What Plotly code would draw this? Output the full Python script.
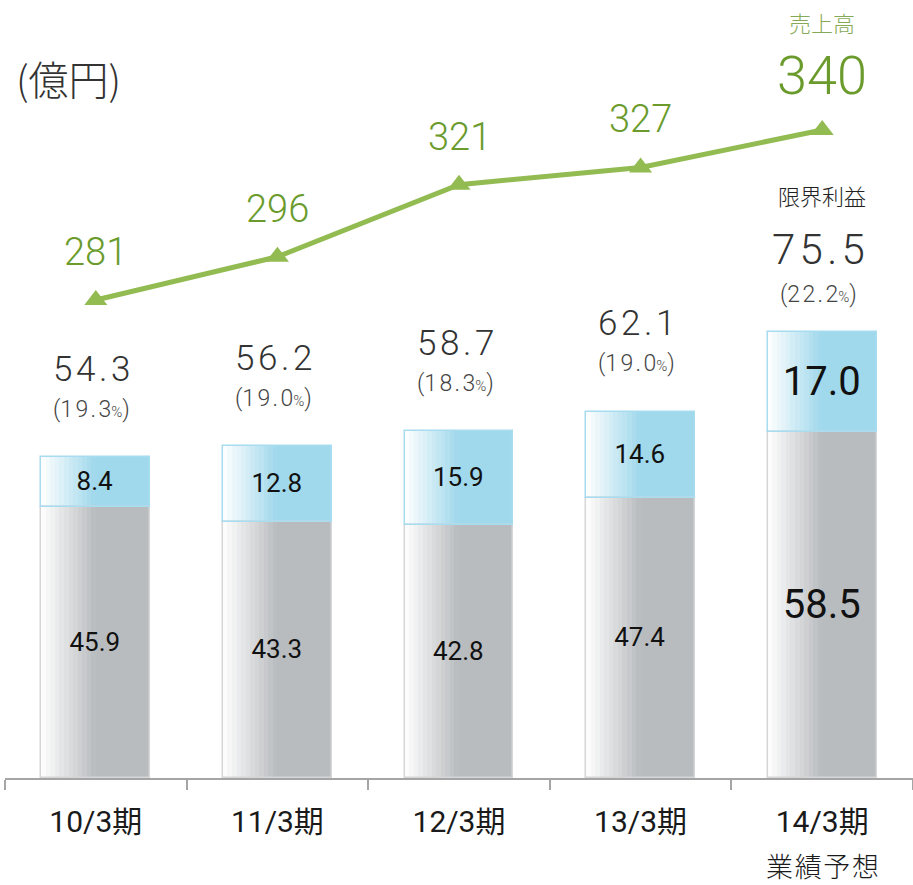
import plotly.graph_objects as go

# data
periods = ['10/3期', '11/3期', '12/3期', '13/3期', '14/3期']
forecast_note = '業績予想'
base_part = [45.9, 43.3, 42.8, 47.4, 58.5]      # gray segment
upper_part = [8.4, 12.8, 15.9, 14.6, 17.0]      # blue segment
margin_total = [54.3, 56.2, 58.7, 62.1, 75.5]   # 限界利益
margin_pct = [19.3, 19.0, 18.3, 19.0, 22.2]
sales = [281, 296, 321, 327, 340]               # 売上高

FONT = 'Roboto, "Noto Sans CJK JP", sans-serif'
JP = '"Noto Sans CJK JP", sans-serif'
GRAY = (185, 188, 191)
BLUE = (160, 216, 236)
GREEN_LINE = '#92bb52'
GREEN_TXT = '#6a9b2c'
W = 0.6
N = 12


def mix(c, t):
    r, g, b = [int(255 + (v - 255) * t) for v in c]
    return f'rgb({r},{g},{b})'


def spaced(s):
    # light tracking like the original
    return '\u200a'.join(s)


fig = go.Figure()

# gradient bars: left half faded from white, right half solid
for i in range(N + 1):
    if i < N:
        off = -W / 2 + i * (W / 2) / N
        wid = (W / 2) / N + 0.002
        t = (i + 0.5) / N
    else:
        off = 0
        wid = W / 2
        t = 1.0
    fig.add_trace(go.Bar(x=periods, y=base_part, base=[0] * 5, offset=off, width=wid,
                         marker=dict(color=mix(GRAY, t), line_width=0),
                         showlegend=False, hoverinfo='skip'))
    fig.add_trace(go.Bar(x=periods, y=upper_part, base=base_part, offset=off, width=wid,
                         marker=dict(color=mix(BLUE, t), line_width=0),
                         showlegend=False, hoverinfo='skip'))

# outline + inner labels
big = [26, 26, 26, 26, 40]
fig.add_trace(go.Bar(x=periods, y=base_part, base=[0] * 5, width=W,
                     marker=dict(color='rgba(0,0,0,0)', line=dict(color='#d4d6d8', width=1.5)),
                     text=[f'{v:.1f}' for v in base_part], textposition='inside',
                     insidetextanchor='middle', textangle=0, constraintext='none',
                     textfont=dict(size=big, color='#111111', family=FONT),
                     showlegend=False))
fig.add_trace(go.Bar(x=periods, y=upper_part, base=base_part, width=W,
                     marker=dict(color='rgba(0,0,0,0)', line=dict(color='#a8dcf0', width=1.5)),
                     text=[f'{v:.1f}' for v in upper_part], textposition='inside',
                     insidetextanchor='middle', textangle=0, constraintext='none',
                     textfont=dict(size=big, color='#111111', family=FONT),
                     showlegend=False))

# sales line
fig.add_trace(go.Scatter(x=periods, y=sales, yaxis='y2', mode='lines+markers',
                         line=dict(color=GREEN_LINE, width=5),
                         marker=dict(symbol='triangle-up', size=20, color=GREEN_LINE),
                         showlegend=False))

# sales labels
for i, (p, s) in enumerate(zip(periods, sales)):
    last = i == len(sales) - 1
    fig.add_annotation(x=p, y=s, yref='y2', text=str(s), showarrow=False,
                       yshift=54 if last else 48,
                       font=dict(size=54 if last else 38, color=GREEN_TXT, family=FONT,
                                 weight=300))
fig.add_annotation(x=periods[-1], y=sales[-1], yref='y2', text='売上高', showarrow=False,
                   yshift=108, font=dict(size=22, color='#86a955', family=JP, weight=300))

# marginal profit labels
for i, p in enumerate(periods):
    last = i == len(periods) - 1
    top = base_part[i] + upper_part[i]
    fig.add_annotation(x=p, y=top, text=spaced(f'{margin_total[i]:.1f}'), showarrow=False,
                       yshift=82 if last else 88, xshift=-4,
                       font=dict(size=42 if last else 35, color='#333333', family=FONT,
                                 weight=300))
    fig.add_annotation(x=p, y=top, showarrow=False, yshift=37 if last else 48, xshift=-4,
                       text='(' + spaced(f'{margin_pct[i]:.1f}')
                            + '<span style="font-size:15px">%</span>)',
                       font=dict(size=23, color='#444444', family=FONT, weight=300))
fig.add_annotation(x=periods[-1], y=base_part[-1] + upper_part[-1], text='限界利益',
                   showarrow=False, yshift=137,
                   font=dict(size=22, color='#222222', family=JP, weight=300))

fig.add_annotation(x=periods[-1], xref='x', yref='paper', y=0, yanchor='middle',
                   yshift=-87, text=spaced(forecast_note), showarrow=False,
                   font=dict(size=27, color='#1a1a1a', family=JP, weight=300))

fig.add_annotation(xref='paper', yref='paper', x=0.01, y=(778 - 78) / 778,
                   yanchor='middle', xanchor='left', text='(億円)', showarrow=False,
                   font=dict(size=40, color='#333333', family=JP, weight=300))

fig.update_layout(
    width=913, height=885,
    margin=dict(l=5, r=0, t=0, b=107),
    barmode='overlay', bargap=0,
    plot_bgcolor='white', paper_bgcolor='white',
    font=dict(family=FONT),
    xaxis=dict(type='category', range=[-0.5, 4.5], showline=True, linecolor='#a5a5a5',
               linewidth=2, ticks='outside', tickson='boundaries', ticklen=10,
               tickcolor='#a5a5a5', tickwidth=2, showgrid=False, automargin=False,
               ticklabelstandoff=16,
               tickfont=dict(size=30, color='#1a1a1a', family=FONT)),
    yaxis=dict(range=[0, 778 / 5.91], visible=False, showgrid=False, automargin=False),
    yaxis2=dict(range=[115.1, 385.1], overlaying='y', visible=False, showgrid=False,
                automargin=False),
)

# page body margin would shift the figure by 8px
fig.write_html('out.html', config={'displayModeBar': False},
               post_script="document.body.style.margin='0';")
